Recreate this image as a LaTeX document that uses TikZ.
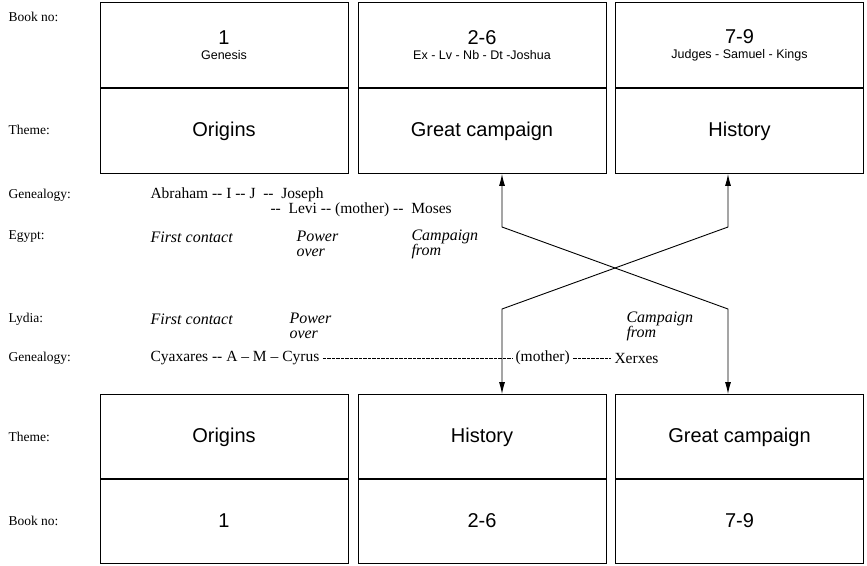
\documentclass[tikz,border=0pt]{standalone}
\usepackage{fontspec}
\setmainfont{Liberation Serif}
\setsansfont{Liberation Sans}
\usetikzlibrary{arrows.meta}
\tikzset{
  half/.style={draw, line width=0.8pt, minimum width=248pt, minimum height=85pt,
    align=center, font=\sffamily\fontsize{20}{22}\selectfont},
  rowname/.style={anchor=west, font=\fontsize{13.5}{15}\selectfont},
  kin/.style={anchor=west, align=left, font=\fontsize{15.5}{15}\selectfont},
  event/.style={anchor=west, align=left, font=\itshape\fontsize{16}{15}\selectfont},
  swap/.style={line width=0.9pt, {Latex[length=12pt,width=6pt]}-{Latex[length=12pt,width=6pt]}},
}
\newcommand{\books}[1]{{\fontsize{12.5}{14}\selectfont #1}}
\begin{document}
\begin{tikzpicture}[x=1pt,y=-1pt]
  \useasboundingbox (0,0) rectangle (867,565);
  % upper row: Genesis .. Kings
  \node[half] (book1) at (224,45) {1\\[-7pt]\books{Genesis}};
  \node[half] (theme1) at (224,131) {Origins};
  \node[half] (book2) at (482,45) {2-6\\[-7pt]\books{Ex - Lv - Nb - Dt -Joshua}};
  \node[half] (theme2) at (482,131) {Great campaign};
  \node[half] (book3) at (739.5,45) {7-9\\[-7pt]\books{Judges - Samuel - Kings}};
  \node[half] (theme3) at (739.5,131) {History};
  % lower row
  \node[half] (btheme1) at (224,437) {Origins};
  \node[half] (bbook1) at (224,521) {1};
  \node[half] (btheme2) at (482,437) {History};
  \node[half] (bbook2) at (482,521) {2-6};
  \node[half] (btheme3) at (739.5,437) {Great campaign};
  \node[half] (bbook3) at (739.5,521) {7-9};
  % row names
  \node[rowname] (lbook) at (5,17) {Book no:};
  \node[rowname] (ltheme) at (5,130) {Theme:};
  \node[rowname] (lgen) at (5,195) {Genealogy:};
  \node[rowname] (legypt) at (5,237) {Egypt:};
  \node[rowname] (llydia) at (5,319) {Lydia:};
  \node[rowname] (lgen2) at (5,358) {Genealogy:};
  \node[rowname] (btheme) at (5,437) {Theme:};
  \node[rowname] (bbook) at (5,521) {Book no:};
  % Egypt side
  \node[kin] (abraham) at (147,195) {Abraham -{}- I -{}- J\ \ -{}-\ \ Joseph};
  \node[kin] (levi) at (267,210) {-{}-\ \ Levi -{}- (mother) -{}-\ \ Moses};
  \node[event] (econtact) at (147,237) {First contact};
  \node[event] (epower) at (293,244) {Power\\over};
  \node[event] (ecamp) at (408,244) {Campaign\\from};
  % Lydia side
  \node[event] (lcontact) at (147,319) {First contact};
  \node[event] (lpower) at (286,326) {Power\\over};
  \node[event] (lcamp) at (623,326) {Campaign\\from};
  \node[kin] (cyaxares) at (147,358) {Cyaxares -{}- A -- M -- Cyrus};
  \node[kin] (mother) at (512,358) {(mother)};
  \node[kin] (xerxes) at (611,358) {Xerxes};
  \draw[line width=0.6pt, dash pattern=on 3.5pt off 1pt] (cyaxares.east) -- (mother.west);
  \draw[line width=0.6pt, dash pattern=on 3.5pt off 1pt] (mother.east) -- (xerxes.west);
  % the crossing
  \coordinate (k1) at (502,227);
  \coordinate (k2) at (728,309);
  \coordinate (k3) at (728,227);
  \coordinate (k4) at (502,309);
  \draw[swap] (k1 |- theme2.south) -- (k1) -- (k2) -- (k2 |- btheme3.north);
  \draw[swap] (k3 |- theme3.south) -- (k3) -- (k4) -- (k4 |- btheme2.north);
\end{tikzpicture}
\end{document}
